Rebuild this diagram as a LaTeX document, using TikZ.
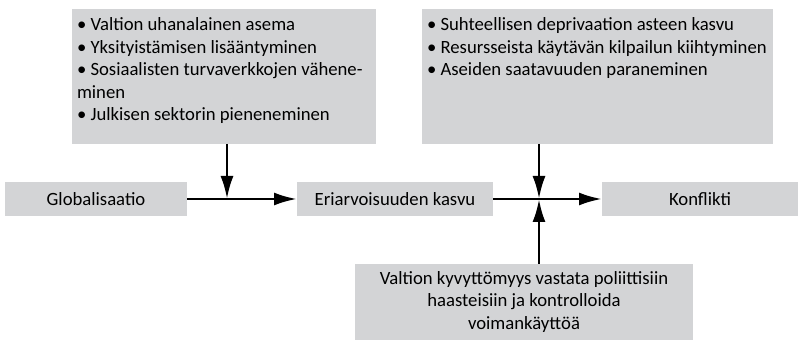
\documentclass[tikz,border=0pt]{standalone}
\usepackage{fontspec}
\setmainfont{Carlito}
\usetikzlibrary{positioning,arrows.meta}
\definecolor{boxgray}{RGB}{211,212,214}

\begin{document}
\begin{tikzpicture}[x=0.5pt,y=-0.5pt,
box/.style={fill=boxgray, inner sep=0pt, outer sep=0pt, font=\fontsize{9.35}{11.25}\selectfont},
flat/.style={box, minimum width=98pt, minimum height=17pt},
listbox/.style={box, anchor=north west, inner xsep=2.5pt, inner ysep=0pt},
arr/.style={-{Latex[length=11.5pt,width=6.5pt]}, line width=1.4pt}
]
\useasboundingbox (0,0) rectangle (798,341);

% main chain
\node[flat, minimum width=91pt, anchor=west](glob) at (5,199){Globalisaatio};
\node[flat](ineq)[right=55pt of glob]{Eriarvoisuuden kasvu};
\node[flat](confl)[right=54.5pt of ineq]{Konflikti};

% factors
\node[listbox](econ) at (72,9){\parbox[t][67.5pt][t]{147pt}{\vspace{4.5pt}
\mbox{• Valtion uhanalainen asema}\\
\mbox{• Yksityistämisen lisääntyminen}\\
\mbox{• Sosiaalisten turvaverkkojen vähene-}\\
\mbox{minen}\\
\mbox{• Julkisen sektorin pieneneminen}}};
\node[listbox](social) at (422,9){\parbox[t][67.5pt][t]{170.5pt}{\vspace{4.5pt}
\mbox{• Suhteellisen deprivaation asteen kasvu}\\
\mbox{• Resursseista käytävän kilpailun kiihtyminen}\\
\mbox{• Aseiden saatavuuden paraneminen}}};
\node[box, anchor=north west, minimum width=169pt, minimum height=38pt, align=center](state) at (355,264){Valtion kyvyttömyys vastata poliittisiin\\
haasteisiin ja kontrolloida\\
voimankäyttöä};

\coordinate (j1) at (227,199);
\coordinate (j2) at (539,199);

\draw[arr] (glob.east) -- (ineq.west);
\draw[arr] (ineq.east) -- (confl.west);
\draw[arr] (j1 |- econ.south) -- (j1);
\draw[arr] (j2 |- social.south) -- (j2);
\draw[arr] (j2 |- state.north) -- (j2);
\end{tikzpicture}
\end{document}
